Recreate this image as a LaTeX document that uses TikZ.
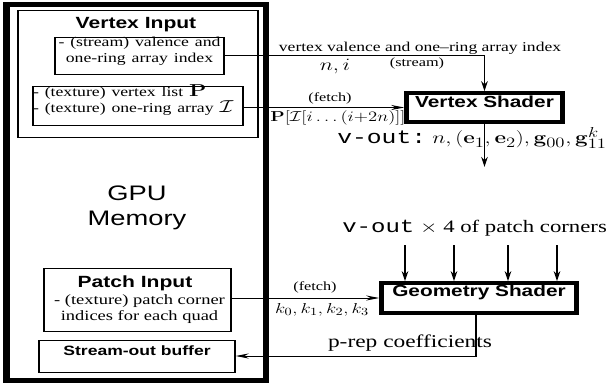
\documentclass[tikz,border=0pt]{standalone}
\usepackage{graphicx}
\usepackage[no-math]{fontspec}
\setmainfont{Liberation Serif}
\setsansfont{Liberation Sans}
\setmonofont{Liberation Mono}
\usetikzlibrary{arrows.meta,fit}
\newcommand{\fsz}[2]{\fontsize{#1}{#2}\selectfont}
\tikzset{
  box/.style={draw, line width=1pt, inner sep=0pt},
  shader/.style={draw, line width=3.5pt, inner sep=0pt, font=\sffamily\bfseries\fsz{16}{18}},
  arr/.style={-{Stealth[length=10pt,width=5pt]}, line width=1pt},
  lbl/.style={inner sep=0pt, font=\fsz{12.5}{14}},
  sbold/.style={inner sep=0pt, font=\sffamily\bfseries\fsz{16.2}{18}}
}
\begin{document}
\begin{tikzpicture}
\path[fill=white, use as bounding box] (0,0) rectangle (613pt,-389pt);
\begin{scope}[transform canvas={xscale=1.3}, x=0.769231pt, y=-1pt]
% GPU memory
\node[draw, line width=5pt, inner sep=0pt, fit={(6.5,4.5) (266,380.5)}] (gpu) {};
\node[inner sep=0pt, align=center, font=\sffamily\fsz{21}{25}] (gpulabel) at (137,207.5) {GPU\\Memory};
% Vertex input
\node[box, fit={(18,10) (258,137)}] (vin) {};
\node[sbold] (vintitle) at (136,25) {Vertex Input};
\node[box, fit={(55,37) (224,74)}, align=center, font=\fsz{13.6}{16}] (stream) {- (stream) valence and\\one-ring array index};
\node[box, fit={(33,86) (243,125)}, align=left, font=\fsz{13.6}{16}] (tex) {- (texture) vertex list {\fsz{18}{16}$\mathbf{P}$}\\- (texture) one-ring array {\fsz{16}{16}$\mathcal{I}$}};
% Patch input
\node[box, fit={(44,268) (231,331)}] (patch) {};
\node[sbold] (patchtitle) at (135,283) {Patch Input};
\node[inner sep=0pt, align=center, font=\fsz{14.2}{16}] (patchtext) at (139.5,309.5) {- (texture) patch corner\\indices for each quad};
% Stream-out buffer
\node[box, fit={(39,340) (235,372)}, font=\sffamily\bfseries\fsz{13.5}{15}] (sob) {Stream-out buffer};
% Shaders
\node[shader, fit={(406.5,93) (562.5,122)}] (vs) {Vertex Shader};
\node[shader, fit={(381.5,283) (576.5,313)}] (gs) {Geometry Shader};
% stream connector
\draw[arr] (stream.east) -| (vs.north);
\node[inner sep=0pt, font=\fsz{13.5}{15}] (l1) at (420,48) {vertex valence and one--ring array index};
\node[inner sep=0pt, font=\fsz{17.5}{18}] (l2) at (335,67) {$n,i$};
\node[lbl] (l3) at (417,63) {(stream)};
% fetch 1
\draw[arr] (tex.east |- vs.west) -- (vs.west);
\node[lbl] (l4) at (330,98) {(fetch)};
\node[inner sep=0pt, font=\fsz{13.5}{14}] (l5) at (338,118) {$\mathbf{P}[\mathcal{I}[i\ldots(i{+}2n)]]$};
% vs out
\coordinate (vsout) at (484.5,167);
\draw[arr] (vs.south) -- (vsout);
\node[inner sep=0pt, anchor=west, font=\fsz{19}{20}] (l6) at (337,138) {\texttt{v-out:}~$n,(\mathbf{e}_1,\mathbf{e}_2),\mathbf{g}_{00},\mathbf{g}_{11}^k$};
\node[inner sep=0pt, anchor=west, font=\fsz{17.5}{19}] (l7) at (342,228) {{\fsz{18.5}{19}\texttt{v-out}} $\times$ 4 of patch corners};
% geometry inputs
\coordinate (c1) at (405,245);
\coordinate (c2) at (454,245);
\coordinate (c3) at (508,245);
\coordinate (c4) at (557,245);
\draw[arr] (c1) -- (c1 |- gs.north);
\draw[arr] (c2) -- (c2 |- gs.north);
\draw[arr] (c3) -- (c3 |- gs.north);
\draw[arr] (c4) -- (c4 |- gs.north);
% fetch 2
\draw[arr] (patch.east |- gs.west) -- (gs.west);
\node[lbl] (l8) at (315,287) {(fetch)};
\node[inner sep=0pt, font=\fsz{15}{16}] (l9) at (322,310) {$k_0,k_1,k_2,k_3$};
% p-rep
\coordinate (pr) at (476,0);
\draw[arr] (gs.south -| pr) |- (sob.east);
\node[inner sep=0pt, font=\fsz{18}{20}] (l10) at (410,343) {p-rep coefficients};
\end{scope}
\end{tikzpicture}
\end{document}
